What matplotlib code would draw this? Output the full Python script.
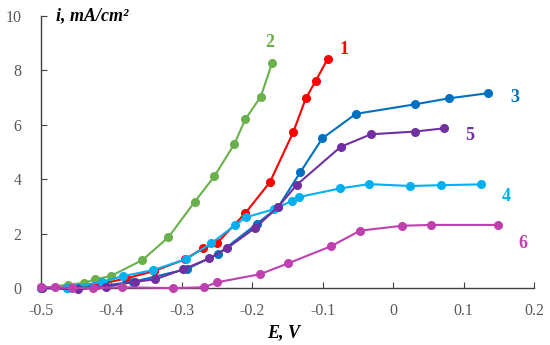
import numpy as np
import matplotlib.pyplot as plt

# curve data: potential E (V) and current density i (mA/cm2)
E1 = [-0.5, -0.46, -0.42, -0.38, -0.34, -0.296, -0.270, -0.2505, -0.210, -0.175, -0.142, -0.124, -0.110, -0.093]
i1 = [0.0, 0.03, 0.13, 0.35, 0.62, 1.05, 1.46, 1.64, 2.75, 3.89, 5.72, 6.97, 7.61, 8.42]

E2 = [-0.499, -0.461, -0.439, -0.423, -0.401, -0.356, -0.319, -0.282, -0.254, -0.2255, -0.210, -0.188, -0.172]
i2 = [0.0, 0.13, 0.19, 0.32, 0.44, 1.03, 1.87, 3.16, 4.10, 5.29, 6.20, 7.03, 8.26]

E3 = [-0.5, -0.4635, -0.447, -0.409, -0.369, -0.293, -0.248, -0.194, -0.163, -0.132, -0.1006, -0.053, 0.031, 0.079, 0.135]
i3 = [0.0, 0.0, 0.0, 0.10, 0.23, 0.70, 1.26, 2.35, 2.98, 4.25, 5.50, 6.40, 6.75, 6.97, 7.16]

E4 = [-0.5, -0.4635, -0.414, -0.383, -0.341, -0.294, -0.258, -0.224, -0.209, -0.169, -0.144, -0.133, -0.0755, -0.034, 0.024, 0.0675, 0.125]
i4 = [0.0, 0.0, 0.23, 0.44, 0.66, 1.06, 1.65, 2.32, 2.60, 2.90, 3.20, 3.35, 3.66, 3.82, 3.75, 3.78, 3.81]

E5 = [-0.499, -0.447, -0.408, -0.3665, -0.338, -0.298, -0.261, -0.236, -0.1955, -0.163, -0.137, -0.0745, -0.0315, 0.031, 0.0726]
i5 = [0.0, -0.05, 0.05, 0.23, 0.32, 0.69, 1.09, 1.46, 2.22, 2.99, 3.79, 5.19, 5.65, 5.75, 5.87]

E6 = [-0.5, -0.48, -0.456, -0.426, -0.385, -0.313, -0.268, -0.2505, -0.189, -0.149, -0.088, -0.047, 0.013, 0.054, 0.149]
i6 = [0.03, 0.03, 0.0, 0.0, 0.03, 0.0, 0.03, 0.21, 0.51, 0.91, 1.54, 2.11, 2.29, 2.32, 2.32]

series = [
    (E1, i1, '#FF0000', '1', (-0.070, 8.75)),
    (E2, i2, '#6AB04C', '2', (-0.175, 9.04)),
    (E3, i3, '#0070C0', '3', (0.172, 7.0)),
    (E4, i4, '#00B0F0', '4', (0.160, 3.38)),
    (E5, i5, '#7030A0', '5', (0.109, 5.59)),
    (E6, i6, '#BF40AF', '6', (0.184, 1.62)),
]

plt.rcParams['font.family'] = 'Liberation Serif'

fig = plt.figure(figsize=(5.5, 3.45), dpi=100)
ax = fig.add_axes([0.0745, 0.165, 0.8965, 0.789])

for E, I, c, lab, pos in series:
    ax.plot(E, I, '-o', color=c, lw=1.5, ms=5.5, zorder=3, clip_on=False)
    ax.text(pos[0], pos[1], lab, color=c, fontsize=13, fontweight='bold',
            ha='center', va='center')

ax.set_xlim(-0.5, 0.2)
ax.set_ylim(0, 10)
ax.set_xticks(np.arange(-0.5, 0.21, 0.1))
ax.set_xticklabels(['-0.5', '-0.4', '-0.3', '-0.2', '-0.1', '0', '0.1', '0.2'])
ax.set_yticks([0, 2, 4, 6, 8, 10])

for s in ['top', 'right']:
    ax.spines[s].set_visible(False)
for s in ['left', 'bottom']:
    ax.spines[s].set_color('#404040')
    ax.spines[s].set_linewidth(1.0)
ax.tick_params(direction='in', length=4, color='#404040', labelcolor='#595959',
               labelsize=11.5)
ax.tick_params(axis='x', pad=11)
ax.tick_params(axis='y', pad=14)

ax.text(0.03, 1.0, 'i, mA/cm²', transform=ax.transAxes, fontsize=13,
        fontweight='bold', fontstyle='italic', va='center', ha='left')
ax.text(-0.155, -0.165, 'E, V', transform=ax.get_xaxis_transform(), fontsize=13,
        fontweight='bold', fontstyle='italic', va='center', ha='center')

fig.savefig('out.png', dpi=100)
